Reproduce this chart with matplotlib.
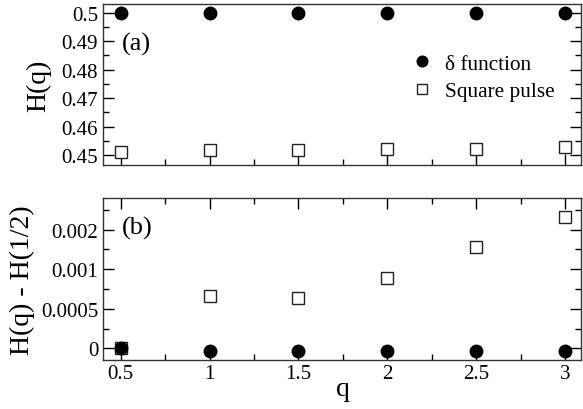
import matplotlib
matplotlib.use("Agg")
import matplotlib.pyplot as plt
from matplotlib.ticker import MultipleLocator, FixedLocator, FixedFormatter

plt.rcParams['font.family'] = ['Liberation Serif', 'DejaVu Serif']

q = [0.5, 1.0, 1.5, 2.0, 2.5, 3.0]
H_delta = [0.5, 0.5, 0.5, 0.5, 0.5, 0.5]
H_square = [0.4511, 0.4518, 0.4518, 0.4521, 0.4522, 0.4527]
dH_delta = [0.0, -0.00003, -0.00003, -0.00003, -0.00003, -0.00003]
dH_square = [0.0, 0.000658, 0.000633, 0.000886, 0.001278, 0.001658]
x_ticks = [0.5, 1, 1.5, 2, 2.5, 3]
x_tick_labels = ["0.5", "1", "1.5", "2", "2.5", "3"]
ya_ticks = [0.45, 0.46, 0.47, 0.48, 0.49, 0.5]
ya_tick_labels = ["0.45", "0.46", "0.47", "0.48", "0.49", "0.5"]
yb_ticks = [0.0, 0.0005, 0.001, 0.0015]
yb_tick_labels = ["0", "0.0005", "0.001", "0.002"]

W, H = 583, 410
fig = plt.figure(figsize=(W / 100, H / 100), dpi=100)
L, R = 103, 581
ax1 = fig.add_axes([L / W, 1 - 166 / H, (R - L) / W, (166 - 5) / H])
ax2 = fig.add_axes([L / W, 1 - 360.5 / H, (R - L) / W, (360.5 - 199) / H])

ms_c = 9.0
ms_s = 8.6
for ax in (ax1, ax2):
    for s in ax.spines.values():
        s.set_linewidth(1.0)
        s.set_color('#333333')
    ax.set_xlim(0.4, 3.09)
    ax.xaxis.set_major_locator(FixedLocator(x_ticks))
    ax.xaxis.set_minor_locator(MultipleLocator(0.25))
    ax.tick_params(which='major', direction='in', length=8, width=1, labelsize=15, pad=3.5)
    ax.tick_params(which='minor', direction='in', length=4, width=1)

ax1.plot(q, H_delta, 'o', color='black', ms=ms_c, ls='none', label='δ function', zorder=3)
ax1.plot(q, H_square, 's', mfc='white', mec='#222222', mew=1.0, ms=ms_s, ls='none', label='Square pulse', zorder=3)
ax1.set_ylim(0.4465, 0.503)
ax1.yaxis.set_major_locator(FixedLocator(ya_ticks))
ax1.yaxis.set_major_formatter(FixedFormatter(ya_tick_labels))
ax1.yaxis.set_minor_locator(MultipleLocator(0.005))
ax1.tick_params(which='both', left=True, right=True, bottom=True, top=False, labelbottom=False)
ax1.text(0.04, 0.752, '(a)', fontsize=19, transform=ax1.transAxes, va='center', ha='left')
leg = ax1.legend(loc='upper left', bbox_to_anchor=(0.64, 0.69), frameon=False, fontsize=15.3,
                 handletextpad=0.5, labelspacing=0.36, markerscale=0.85, handlelength=1.2,
                 borderaxespad=0, borderpad=0)

ax2.plot(q, dH_delta, 'o', color='black', ms=ms_c, ls='none', zorder=4)
ax2.plot(q, dH_square, 's', mfc='white', mec='#222222', mew=1.0, ms=ms_s, ls='none', zorder=3)
ax2.set_ylim(-0.00014, 0.0019)
ax2.yaxis.set_major_locator(FixedLocator(yb_ticks))
ax2.yaxis.set_major_formatter(FixedFormatter(yb_tick_labels))
ax2.yaxis.set_minor_locator(MultipleLocator(0.00025))
ax2.tick_params(which='both', left=True, right=True, bottom=True, top=True)
ax2.xaxis.set_major_formatter(FixedFormatter(x_tick_labels))
ax2.text(0.04, 0.82, '(b)', fontsize=19, transform=ax2.transAxes, va='center', ha='left')

fig.text(38.5 / W, 1 - 85.5 / H, 'H(q)', fontsize=20, rotation=90, ha='center', va='center')
fig.text(22.5 / W, 1 - 280 / H, 'H(q) - H(1/2)', fontsize=20, rotation=90, ha='center', va='center')
fig.text(343 / W, 1 - 390 / H, 'q', fontsize=20, ha='center', va='center')

fig.savefig('out.png', dpi=100)
